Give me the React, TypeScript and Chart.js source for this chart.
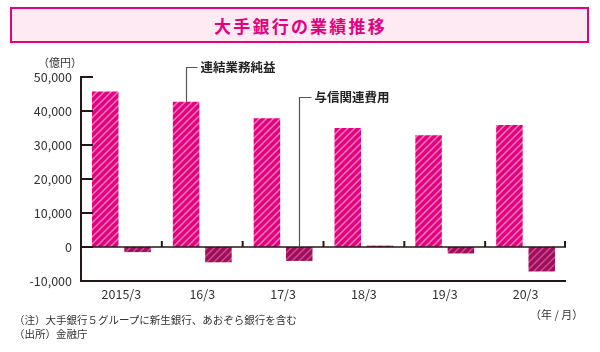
import React, { useEffect, useRef } from "react";
import { Chart, registerables } from "chart.js";

Chart.register(...registerables);

const categories = ["2015/3", "16/3", "17/3", "18/3", "19/3", "20/3"];
const operatingProfit = [45700, 42700, 37900, 35000, 32900, 35900];
const creditCosts = [-1500, -4500, -4100, 400, -1900, -7200];
const seriesNames = ["連結業務純益", "与信関連費用"];
const yMin = -10000;
const yMax = 50000;
const yStep = 10000;

const FONT = '"Noto Sans CJK JP", "Noto Sans", sans-serif';
const AXIS = "#231815";

function makeStripe(base: string, stripe: string): CanvasPattern | string {
  const c = document.createElement("canvas");
  const s = 7;
  c.width = s;
  c.height = s;
  const g = c.getContext("2d");
  if (!g) return base;
  g.fillStyle = base;
  g.fillRect(0, 0, s, s);
  g.strokeStyle = stripe;
  g.lineWidth = 1.5;
  g.beginPath();
  g.moveTo(-1, s + 1);
  g.lineTo(s + 1, -1);
  g.moveTo(-1, 1);
  g.lineTo(1, -1);
  g.moveTo(s - 1, s + 1);
  g.lineTo(s + 1, s - 1);
  g.stroke();
  const p = g.createPattern(c, "repeat");
  return p || base;
}

const axesPlugin = {
  id: "customAxes",
  afterDatasetsDraw(chart: any) {
    const { ctx, chartArea, scales } = chart;
    const ys = scales.y;
    const left = chartArea.left;
    const right = chartArea.right;
    const y0 = ys.getPixelForValue(0);
    const yTop = ys.getPixelForValue(yMax);
    const yBot = ys.getPixelForValue(yMin);
    ctx.save();
    ctx.strokeStyle = AXIS;
    ctx.lineCap = "butt";
    ctx.lineWidth = 2;
    ctx.beginPath();
    ctx.moveTo(left, yTop - 1);
    ctx.lineTo(left, yBot + 1);
    ctx.stroke();
    for (let v = yMin; v <= yMax; v += yStep) {
      const y = ys.getPixelForValue(v);
      ctx.beginPath();
      ctx.moveTo(left, y);
      ctx.lineTo(left + 12, y);
      ctx.stroke();
    }
    ctx.beginPath();
    ctx.moveTo(left, yBot);
    ctx.lineTo(right, yBot);
    ctx.stroke();
    ctx.lineWidth = 1.5;
    ctx.beginPath();
    ctx.moveTo(left, y0);
    ctx.lineTo(right, y0);
    ctx.stroke();
    ctx.lineWidth = 2;
    const n = categories.length;
    const cw = (right - left) / n;
    for (let i = 1; i <= n; i++) {
      const x = Math.min(left + i * cw, right - 1);
      ctx.beginPath();
      ctx.moveTo(x, y0);
      ctx.lineTo(x, y0 - 6);
      ctx.stroke();
    }

    const m0 = chart.getDatasetMeta(0).data[1];
    const m1 = chart.getDatasetMeta(1).data[2];
    ctx.strokeStyle = "#555";
    ctx.lineWidth = 1.2;
    ctx.fillStyle = "#222";
    ctx.font = `bold 12.5px ${FONT}`;
    ctx.textBaseline = "middle";
    ctx.textAlign = "left";
    if (m0) {
      const lx = Math.round(m0.x) + 0.5;
      const ly = 67.5;
      ctx.beginPath();
      ctx.moveTo(lx, m0.y);
      ctx.lineTo(lx, ly);
      ctx.lineTo(lx + 11, ly);
      ctx.stroke();
      ctx.fillText(seriesNames[0], lx + 14, ly);
    }
    if (m1) {
      const lx = Math.round(m1.x) + 0.5;
      const ly = 97.5;
      ctx.beginPath();
      ctx.moveTo(lx, y0 - 1);
      ctx.lineTo(lx, ly);
      ctx.lineTo(lx + 12, ly);
      ctx.stroke();
      ctx.fillText(seriesNames[1], lx + 15, ly);
    }
    ctx.restore();
  },
};

export default function App() {
  const ref = useRef<HTMLCanvasElement | null>(null);
  useEffect(() => {
    const canvas = ref.current;
    if (!canvas) return;
    const pink = makeStripe("#e4007f", "#f57dba");
    const dark = makeStripe("#a10d5c", "#c4528e");
    const chart = new Chart(canvas, {
      type: "bar",
      data: {
        labels: categories,
        datasets: [
          {
            label: seriesNames[0],
            data: operatingProfit,
            backgroundColor: pink as any,
            borderWidth: 0,
            categoryPercentage: 0.8,
            barPercentage: 0.82,
          },
          {
            label: seriesNames[1],
            data: creditCosts,
            backgroundColor: dark as any,
            borderWidth: 0,
            categoryPercentage: 0.8,
            barPercentage: 0.82,
          },
        ],
      },
      options: {
        responsive: false,
        animation: false,
        devicePixelRatio: 1,
        layout: { padding: { left: 0, top: 77, right: 34, bottom: 41 } },
        plugins: {
          legend: { display: false },
          tooltip: { enabled: false },
          title: { display: false },
        },
        scales: {
          x: {
            grid: { display: false, drawTicks: false },
            border: { display: false },
            ticks: {
              color: "#333",
              font: { family: FONT, size: 12.5 },
              padding: 6,
              maxRotation: 0,
            },
            afterFit: (s: any) => {
              s.height = 30;
            },
          },
          y: {
            min: yMin,
            max: yMax,
            grid: { display: false, drawTicks: false },
            border: { display: false },
            ticks: {
              stepSize: yStep,
              color: "#333",
              font: { family: FONT, size: 12.5 },
              padding: 9,
              callback: (v: any) => Number(v).toLocaleString("en-US"),
            },
            afterFit: (s: any) => {
              s.width = 81;
            },
          },
        },
      },
      plugins: [axesPlugin],
    });
    return () => chart.destroy();
  }, []);

  const abs = (o: React.CSSProperties): React.CSSProperties => ({
    position: "absolute",
    fontFamily: FONT,
    whiteSpace: "nowrap",
    ...o,
  });

  return (
    <div
      style={{
        position: "fixed",
        left: 0,
        top: 0,
        width: 600,
        height: 352,
        background: "#fff",
        overflow: "hidden",
      }}
    >
      <canvas
        ref={ref}
        width={600}
        height={352}
        style={{ position: "absolute", left: 0, top: 0, width: 600, height: 352 }}
      />
      <div
        style={abs({
          left: 10,
          top: 7,
          width: 579,
          height: 36,
          boxSizing: "border-box",
          border: "2.5px solid #e4007f",
          background: "#fdeaf2",
          color: "#e4007f",
          fontWeight: 700,
          fontSize: 17,
          letterSpacing: 2.2,
          display: "flex",
          alignItems: "center",
          justifyContent: "center",
          paddingLeft: 2,
        })}
      >
        大手銀行の業績推移
      </div>
      <div style={abs({ left: 38, top: 54, fontSize: 11, color: "#333" })}>（億円）</div>
      <div style={abs({ left: 530, top: 306, fontSize: 11, color: "#333" })}>（年 / 月）</div>
      <div style={abs({ left: 14, top: 313, fontSize: 10.5, color: "#333", lineHeight: "14px" })}>
        （注）大手銀行５グループに新生銀行、あおぞら銀行を含む
        <br />
        （出所）金融庁
      </div>
    </div>
  );
}
